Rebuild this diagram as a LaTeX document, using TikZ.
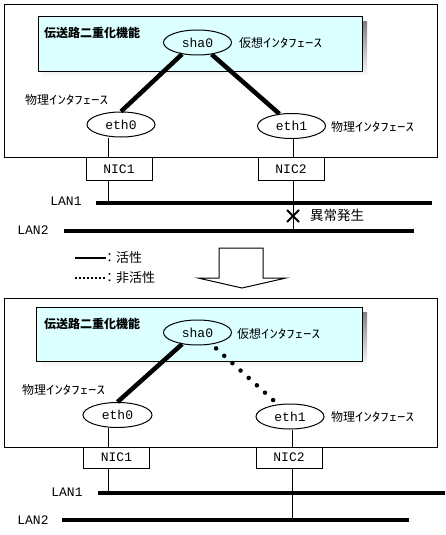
\documentclass[tikz,border=0pt]{standalone}
\usepackage{fontspec}
\usetikzlibrary{shapes.geometric}
\newfontfamily\jp{Noto Sans CJK JP}
\newfontfamily\mono{Liberation Mono}
\newcommand{\hk}[1]{\scalebox{1.4}[1]{#1}}
\definecolor{panel}{RGB}{220,255,255}
\definecolor{shade}{RGB}{150,150,150}
\begin{document}
\begin{tikzpicture}[x=1pt,y=-1pt,
  frame/.style={draw,line width=1pt},
  ell/.style={ellipse,draw,line width=1pt,minimum width=68pt,minimum height=25pt,inner sep=0pt,font=\mono\fontsize{13}{13}\selectfont},
  nic/.style={rectangle,draw,line width=1pt,fill=white,minimum width=66pt,minimum height=23pt,inner sep=0pt,font=\mono\fontsize{13}{13}\selectfont},
  latin/.style={inner sep=0pt,font=\mono\fontsize{13}{13}\selectfont},
  lbl/.style={inner sep=0pt,anchor=west,font=\jp\fontsize{12}{12}\selectfont},
  ttl/.style={inner sep=0pt,anchor=west,font=\jp\bfseries\fontsize{12}{12}\selectfont},
  act/.style={line width=4.5pt},
  inact/.style={line width=4.5pt,line cap=round,dash pattern=on 0pt off 11pt},
  lanline/.style={line width=4pt},
  thin/.style={line width=1pt}
]
\useasboundingbox (0,0) rectangle (445,535);
\fill[white] (0,0) rectangle (445,535);

% ---------- top section ----------
\draw[frame] (4,5) rectangle (437,157);
\fill[shade] (43,22) rectangle (367,77);
\draw[frame,fill=panel] (38,17) rectangle (362,71);
\node[ttl] (t1) at (44,33) {伝送路二重化機能};
\node[ell] (sha0) at (197.5,42.5) {sha0};
\node[lbl] (v1) at (239,43) {仮想\hk{ｲﾝﾀﾌｪｰｽ}};
\node[ell] (eth0) at (121,124.5) {eth0};
\node[ell] (eth1) at (291.5,126) {eth1};
\node[lbl] (p1) at (25,100) {物理\hk{ｲﾝﾀﾌｪｰｽ}};
\node[lbl] (p2) at (331,127) {物理\hk{ｲﾝﾀﾌｪｰｽ}};
\draw[act] (sha0.-143) -- (eth0.north);
\draw[act] (sha0.-40) -- (eth1.135);
\node[nic] (nic1) at (119,169) {NIC1};
\node[nic] (nic2) at (291,169) {NIC2};
\coordinate (l1a) at (96,203);
\coordinate (l1b) at (432,203);
\coordinate (l2a) at (64,231);
\coordinate (l2b) at (414,231);
\draw[lanline] (l1a) -- (l1b);
\draw[lanline] (l2a) -- (l2b);
\node[latin] (lan1) at (66,201) {LAN1};
\node[latin] (lan2) at (33,230) {LAN2};
\coordinate (v0) at (108,203);
\coordinate (v1) at (293,231);
\draw[thin] (v0 |- eth0.south) -- (v0 |- nic1.north);
\draw[thin] (v0 |- nic1.south) -- (v0);
\draw[thin] (v1 |- eth1.south) -- (v1 |- nic2.north);
\draw[thin] (v1 |- nic2.south) -- (v1);
\draw[line width=2pt] (287,210) -- (299,222) (287,222) -- (299,210);
\node[lbl,font=\jp\fontsize{13.5}{13.5}\selectfont] (err) at (310,215) {異常発生};

% legend
\draw[line width=2pt] (75,257.5) -- (106,257.5);
\node[lbl,font=\jp\fontsize{13}{13}\selectfont] (lg1) at (103,258) {：活性};
\draw[line width=1.5pt,dash pattern=on 1.5pt off 2.5pt] (75,278) -- (105,278);
\node[lbl,font=\jp\fontsize{13}{13}\selectfont] (lg2) at (103,278) {：非活性};

% big arrow
\draw[frame,fill=white] (219,248) -- (263,248) -- (263,278) -- (286,278) -- (242,288) -- (198,278) -- (219,278) -- cycle;

% ---------- bottom section ----------
\draw[frame] (4,298) rectangle (437,447);
\fill[shade] (41,312) rectangle (367,367);
\draw[frame,fill=panel] (36,307) rectangle (362,361);
\node[ttl] (t2) at (44,324) {伝送路二重化機能};
\node[ell] (bsha0) at (197.5,332.5) {sha0};
\node[lbl] (bv1) at (237,334) {仮想\hk{ｲﾝﾀﾌｪｰｽ}};
\node[ell,minimum width=69pt] (beth0) at (117.5,415) {eth0};
\node[ell] (beth1) at (290,416.5) {eth1};
\node[lbl] (bp1) at (22,390) {物理\hk{ｲﾝﾀﾌｪｰｽ}};
\node[lbl] (bp2) at (331,417) {物理\hk{ｲﾝﾀﾌｪｰｽ}};
\draw[act] (bsha0.-143) -- (beth0.north);
\draw[inact,shorten <=6pt,shorten >=6pt] (bsha0.-40) -- (beth1.135);
\node[nic,minimum height=21pt] (bnic1) at (116.5,457.5) {NIC1};
\node[nic,minimum height=21pt] (bnic2) at (289,457.5) {NIC2};
\coordinate (m1a) at (98,493);
\coordinate (m1b) at (445,493);
\coordinate (m2a) at (62,520);
\coordinate (m2b) at (409,520);
\draw[lanline] (m1a) -- (m1b);
\draw[lanline] (m2a) -- (m2b);
\node[latin] (blan1) at (67,492) {LAN1};
\node[latin] (blan2) at (33,520) {LAN2};
\coordinate (w0) at (108,493);
\coordinate (w1) at (292,520);
\draw[thin] (w0 |- beth0.south) -- (w0 |- bnic1.north);
\draw[thin] (w0 |- bnic1.south) -- (w0);
\draw[thin] (w1 |- beth1.south) -- (w1 |- bnic2.north);
\draw[thin] (w1 |- bnic2.south) -- (w1);
\end{tikzpicture}
\end{document}
